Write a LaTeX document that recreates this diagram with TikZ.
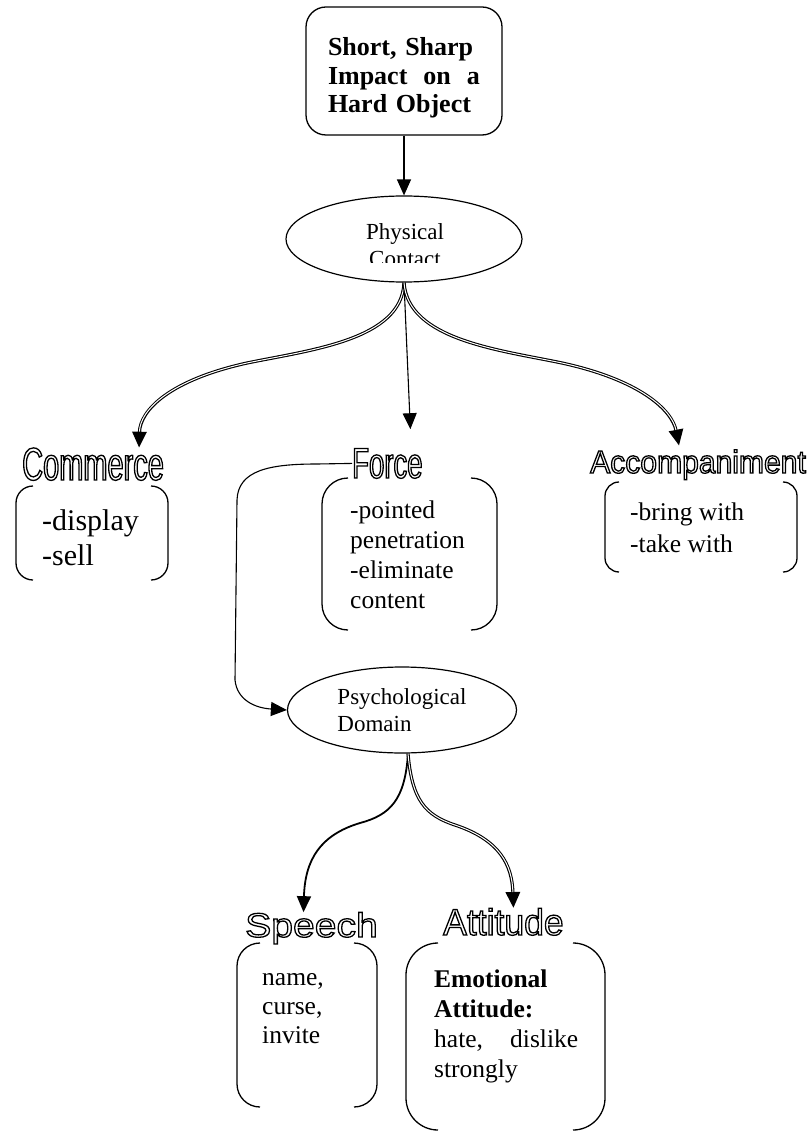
\documentclass[tikz,border=0pt]{standalone}
\usepackage{fontspec}
\setmainfont{Liberation Serif}
\newfontfamily\artcom[FakeStretch=0.63]{Liberation Sans}
\newfontfamily\artfrc[FakeStretch=0.64]{Liberation Sans}
\newfontfamily\artacc[FakeStretch=0.94]{Liberation Sans}
\newfontfamily\artspc[FakeStretch=1.15]{Liberation Sans}
\newfontfamily\artatt[FakeStretch=0.96]{Liberation Sans}
\usetikzlibrary{arrows.meta,shapes.geometric}
% hollow (stroked) letters
\newcommand\hollow[1]{\special{pdf:literal direct 1 Tr 1.3 w}#1\special{pdf:literal direct 0 Tr}}

\begin{document}
\begin{tikzpicture}[x=1pt,y=1pt,
  ell/.style={draw,ellipse,line width=1.2pt,inner sep=0pt},
  arr/.style={-{Triangle[length=16pt,width=14pt]},line width=1.3pt},
  dbl/.style={line width=3.2pt,postaction={draw,white,line width=1pt,shorten >=16pt,-}},
  brk/.style={line width=1.3pt},
  txt/.style={inner sep=0pt,align=left,anchor=base west,font=\fontsize{25.5}{30}\selectfont},
  lab/.style={inner sep=0pt,anchor=base west}]
\useasboundingbox (0,0) rectangle (810,-1131);

\node[draw,rounded corners=20pt,line width=1.3pt,minimum width=196pt,minimum height=128pt] (top) at (404,-71) {};
\node[inner sep=0pt,text width=152pt,align=left,font=\fontsize{26}{28.5}\selectfont\bfseries] (toptext)
  at ([yshift=-7pt]top.center) {Short, Sharp\\Impact\hfill on\hfill a\\Hard Object};

\node[ell,minimum width=236pt,minimum height=86pt] (pc) at (404,-239) {};
\begin{scope}
\clip (290,-200) rectangle (520,-263);
\node[inner sep=0pt,align=center,anchor=base,font=\fontsize{23}{27}\selectfont] (pctext) at (405,-267) {Physical\\Contact};
\end{scope}

\node[ell,minimum width=229pt,minimum height=86pt,align=left,font=\fontsize{23}{27}\selectfont] (psy) at (402,-710)
  {Psychological\\Domain};

% headings
\node[lab,font=\fontsize{46}{46}\artcom] (com) at (22,-480) {\hollow{Commerce}};
\node[lab,font=\fontsize{43}{43}\artfrc] (frc) at (352,-478) {\hollow{Force}};
\node[lab,font=\fontsize{32}{32}\artacc] (acc) at (590,-473) {\hollow{Accompaniment}};
\node[lab,font=\fontsize{34}{34}\artspc] (spc) at (245,-937) {\hollow{Speech}};
\node[lab,font=\fontsize{37}{37}\artatt] (att) at (443,-935) {\hollow{Attitude}};

% brackets
\foreach \xa/\ya/\xb/\yb/\arm in {16/486/168/580/17, 322/478/497/630/26, 605/482/797/572/14,
  237/943/377/1107/23, 406/943/605/1130/32}{
  \draw[brk,rounded corners=\arm pt] (\xa+\arm,-\ya) -- (\xa,-\ya) -- (\xa,-\yb) -- (\xa+\arm,-\yb);
  \draw[brk,rounded corners=\arm pt] (\xb-\arm,-\ya) -- (\xb,-\ya) -- (\xb,-\yb) -- (\xb-\arm,-\yb);
}

% contents (multi-line nodes sit on their last line)
\node[txt,font=\fontsize{30}{35}\selectfont] (comtext) at (42,-565) {-display\\-sell};
\node[txt] (frctext) at (350,-608) {-pointed\\penetration\\-eliminate\\content};
\node[txt,font=\fontsize{25.5}{32}\selectfont] (acctext) at (630,-552) {-bring with\\-take with};
\node[txt,font=\fontsize{25.5}{29}\selectfont] (spctext) at (262,-1043) {name,\\curse,\\invite};
\node[txt,text width=144pt,font=\fontsize{25.5}{30}\selectfont] (atttext) at (434,-987)
  {\textbf{Emotional}\\\textbf{Attitude:}\\hate,\hfill dislike\\strongly};

% connectors
\draw[arr] (top.south) -- (pc.north);
\draw[arr,dbl] (pc.south) .. controls (402,-340) and (310,-350) .. (247,-363)
  .. controls (170,-380) and (140,-410) .. ([xshift=46pt]com.north);
\draw[arr,line width=1.1pt] (pc.south) -- ([xshift=23pt,yshift=19pt]frc.north);
\draw[arr,dbl] (pc.south) .. controls (408,-340) and (500,-350) .. (562,-363)
  .. controls (640,-380) and (672,-410) .. ([xshift=-19pt,yshift=4pt]acc.north);
\draw[arr,line width=1.1pt] (frc.west) -- (317,-464) .. controls (270,-464) and (238,-470) .. (237,-500)
  -- (235,-680) .. controls (237,-700) and (255,-708) .. (psy.west);
\draw[arr,line width=1.8pt] ([xshift=6pt]psy.south) .. controls (405,-800) and (390,-815) .. (360,-823)
  .. controls (320,-835) and (305,-860) .. ([xshift=-8pt]spc.north);
\draw[arr,dbl] ([xshift=6pt]psy.south) .. controls (412,-800) and (425,-815) .. (455,-825)
  .. controls (500,-840) and (512,-865) .. ([xshift=10pt]att.north);
\end{tikzpicture}
\end{document}
